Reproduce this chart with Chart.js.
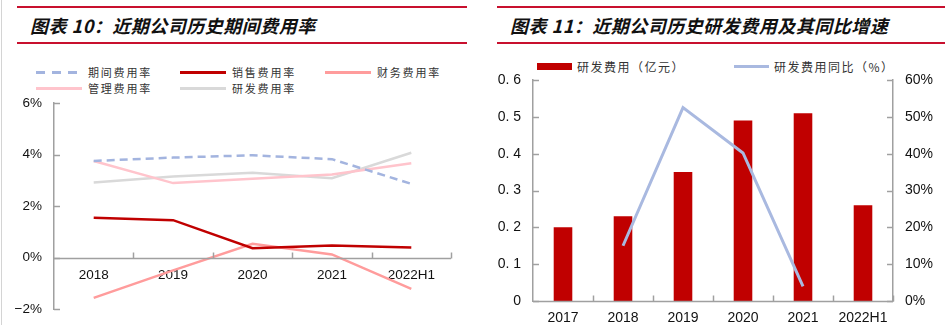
<!DOCTYPE html>
<html>
<head>
<meta charset="utf-8">
<script src="https://cdn.jsdelivr.net/npm/chart.js@4.4.0/dist/chart.umd.min.js"></script>
<style>
  body { margin: 0; width: 945px; height: 325px; background: #fff; position: relative; overflow: hidden;
         font-family: "Liberation Sans", Arial, sans-serif; }
  .edge { position: absolute; left: 1px; top: 0; width: 1px; height: 325px; background: #d4d4d4; }
  .rule { position: absolute; height: 2px; background: #c8102e; }
  .title { position: absolute; top: 13px; font-family: "Noto Sans CJK SC", sans-serif; font-style: italic;
           font-weight: bold; font-size: 18px; line-height: 24px; color: #111; letter-spacing: 0.5px; }
  .legend { position: absolute; font-family: "Noto Sans CJK SC", sans-serif; color: #333; }
  .legend .item { display: flex; align-items: center; white-space: nowrap; }
  .legend .sw { flex: none; }
  #legA { left: 36px; top: 64px; display: grid; grid-template-columns: 144px 145px 140px; grid-auto-rows: 16px;
          font-size: 11px; letter-spacing: 1.8px; }
  #legA .sw { width: 46px; height: 3px; margin-right: 6px; }
  #legB { left: 537px; top: 58px; display: flex; font-size: 12px; letter-spacing: 1.5px; }
  #legB .sw { width: 35px; margin-right: 5px; }
  canvas { position: absolute; }
  #rateChart { left: 0; top: 95px; }
  #rdChart { left: 472px; top: 70px; }
</style>
</head>
<body>
<div class="edge"></div>
<div class="rule" style="left:17px;width:450px;top:6px"></div>
<div class="rule" style="left:17px;width:450px;top:42px"></div>
<div class="rule" style="left:497px;width:448px;top:6px"></div>
<div class="rule" style="left:497px;width:448px;top:42px"></div>
<div class="title" style="left:30px">图表 10：近期公司历史期间费用率</div>
<div class="title" style="left:510px">图表 11：近期公司历史研发费用及其同比增速</div>
<div class="legend" id="legA"></div>
<div class="legend" id="legB"></div>
<canvas id="rateChart" width="472" height="230"></canvas>
<canvas id="rdChart" width="473" height="255"></canvas>

<script>
// expense ratios, % of revenue
const years = ['2018', '2019', '2020', '2021', '2022H1'];
const periodRate = [3.75, 3.88, 3.97, 3.82, 2.86];
const salesRate = [1.54, 1.45, 0.36, 0.47, 0.39];
const financeRate = [-1.57, -0.50, 0.53, 0.12, -1.22];
const adminRate = [3.75, 2.89, 3.06, 3.22, 3.66];
const rdRate = [2.91, 3.15, 3.29, 3.08, 4.07];
const rateTicks = [-2, 0, 2, 4, 6];

// R&D spend (100m yuan) and YoY growth (%)
const rdYears = ['2017', '2018', '2019', '2020', '2021', '2022H1'];
const rdExpense = [0.20, 0.23, 0.35, 0.49, 0.51, 0.26];
const rdYoY = [null, 15, 52.5, 40.2, 4, null];

const AXIS = '#a0a0a0';

// short tick marks pointing into the plot, plus the category axis line
const innerTicks = {
  id: 'innerTicks',
  afterDatasetsDraw(chart, args, opts) {
    const { ctx, chartArea, scales } = chart;
    ctx.save();
    ctx.strokeStyle = AXIS;
    ctx.lineWidth = 1.5;
    const seg = (x1, y1, x2, y2) => { ctx.beginPath(); ctx.moveTo(x1, y1); ctx.lineTo(x2, y2); ctx.stroke(); };

    ['y', 'y1'].forEach(id => {
      const s = scales[id];
      if (!s) return;
      const left = s.position === 'left';
      const x = left ? chartArea.left : chartArea.right;
      s.ticks.forEach(t => {
        const y = Math.round(s.getPixelForValue(t.value)) + 0.5;
        seg(x, y, x + (left ? 6 : -6), y);
      });
    });

    const xs = scales.x;
    const base = Math.round(scales.y.getPixelForValue(opts.base)) + 0.5;
    seg(chartArea.left, base, chartArea.right, base);
    const n = xs.getLabels().length;
    const half = (xs.getPixelForValue(1) - xs.getPixelForValue(0)) / 2;
    for (let i = 1; i <= n; i++) {
      const x = Math.round(xs.getPixelForValue(i - 1) + half) + 0.5;
      seg(x, base, x, base - 6);
    }
    ctx.restore();
  }
};

// value axes: fixed width, no extra room for the end labels
const fixWidth = w => s => { s.width = w; s.paddingTop = 0; s.paddingBottom = 0; };

// ---- left: expense ratios ----
const rateSeries = [
  { label: '期间费用率', data: periodRate, color: '#a3b4df', dash: [8, 5] },
  { label: '销售费用率', data: salesRate, color: '#c00000' },
  { label: '财务费用率', data: financeRate, color: '#ff9c9c' },
  { label: '管理费用率', data: adminRate, color: '#ffc4cc' },
  { label: '研发费用率', data: rdRate, color: '#d9d9d9' }
];

const legA = document.getElementById('legA');
rateSeries.forEach(s => {
  const sw = s.dash
    ? `<svg class="sw" width="46" height="3"><line x1="0" y1="1.5" x2="46" y2="1.5" stroke="${s.color}" stroke-width="3" stroke-dasharray="9 7"/></svg>`
    : `<span class="sw" style="background:${s.color}"></span>`;
  legA.insertAdjacentHTML('beforeend', `<div class="item">${sw}<span>${s.label}</span></div>`);
});

new Chart(document.getElementById('rateChart'), {
  type: 'line',
  data: {
    labels: years,
    datasets: rateSeries.map(s => ({
      label: s.label,
      data: s.data,
      borderColor: s.color,
      backgroundColor: s.color,
      borderWidth: 2.5,
      borderDash: s.dash || [],
      pointRadius: 0,
      tension: 0
    }))
  },
  options: {
    responsive: false,
    animation: false,
    layout: { padding: { top: 8, right: 21, bottom: 16, left: 0 } },
    plugins: { legend: { display: false }, tooltip: { enabled: false }, innerTicks: { base: 0 } },
    scales: {
      x: {
        position: { y: 0 },
        offset: true,
        grid: { display: false, drawTicks: false },
        border: { display: false },
        ticks: { color: '#111', font: { size: 13.5 }, padding: 10, maxRotation: 0 }
      },
      y: {
        min: -2,
        max: 6,
        afterBuildTicks: s => { s.ticks = rateTicks.map(v => ({ value: v })); },
        afterFit: fixWidth(54),
        grid: { display: false, drawTicks: false },
        border: { display: true, color: AXIS, width: 1.5 },
        ticks: {
          color: '#111', font: { size: 13.5 }, padding: 12,
          callback: v => (v < 0 ? '−' : '') + Math.abs(v) + '%'
        }
      }
    }
  },
  plugins: [innerTicks]
});

// ---- right: R&D spend ----
const BAR = '#c00000';
const LINE = '#a9b9e0';
document.getElementById('legB').innerHTML =
  `<div class="item" style="width:197px"><span class="sw" style="height:7px;background:${BAR}"></span><span>研发费用（亿元）</span></div>` +
  `<div class="item"><span class="sw" style="height:3px;background:${LINE}"></span><span>研发费用同比（%）</span></div>`;

new Chart(document.getElementById('rdChart'), {
  type: 'bar',
  data: {
    labels: rdYears,
    datasets: [
      {
        type: 'line',
        label: '研发费用同比（%）',
        data: rdYoY,
        yAxisID: 'y1',
        borderColor: LINE,
        borderWidth: 3,
        pointRadius: 0,
        tension: 0
      },
      {
        label: '研发费用（亿元）',
        data: rdExpense,
        yAxisID: 'y',
        backgroundColor: BAR,
        categoryPercentage: 1,
        barPercentage: 0.31
      }
    ]
  },
  options: {
    responsive: false,
    animation: false,
    layout: { padding: { top: 10, right: 0, bottom: 0, left: 0 } },
    plugins: { legend: { display: false }, tooltip: { enabled: false }, innerTicks: { base: 0 } },
    scales: {
      x: {
        grid: { display: false, drawTicks: false },
        border: { display: false },
        afterFit: s => { s.height = 24; },
        ticks: { color: '#111', font: { size: 14 }, padding: 9, maxRotation: 0 }
      },
      y: {
        position: 'left',
        min: 0,
        max: 0.6,
        afterFit: fixWidth(61),
        grid: { display: false, drawTicks: false },
        border: { display: true, color: AXIS, width: 1.5 },
        ticks: {
          stepSize: 0.1, color: '#111', font: { size: 14 }, padding: 12,
          callback: v => (v === 0 ? '0' : v.toFixed(1).replace('.', '. '))
        }
      },
      y1: {
        position: 'right',
        min: 0,
        max: 60,
        afterFit: fixWidth(52),
        grid: { display: false, drawTicks: false },
        border: { display: true, color: AXIS, width: 1.5 },
        ticks: { stepSize: 10, color: '#111', font: { size: 14 }, padding: 12, callback: v => v + '%' }
      }
    }
  },
  plugins: [innerTicks]
});
</script>
</body>
</html>
